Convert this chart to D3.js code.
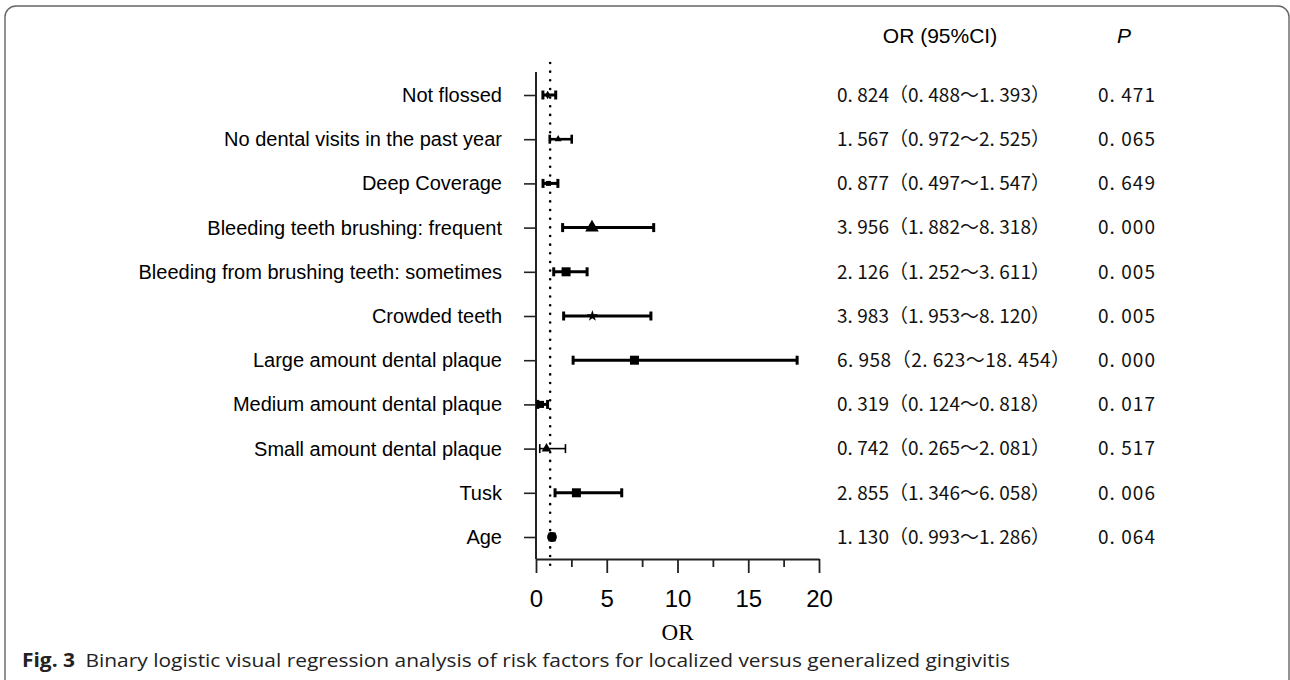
<!DOCTYPE html>
<html>
<head>
<meta charset="utf-8">
<script src="https://cdn.jsdelivr.net/npm/d3@7"></script>
<style>
  body { margin: 0; background: #fff; }
  svg { display: block; }
</style>
</head>
<body>
<div id="chart"></div>
<script>
// values
var factors = [
  "Not flossed",
  "No dental visits in the past year",
  "Deep Coverage",
  "Bleeding teeth brushing: frequent",
  "Bleeding from brushing teeth: sometimes",
  "Crowded teeth",
  "Large amount dental plaque",
  "Medium amount dental plaque",
  "Small amount dental plaque",
  "Tusk",
  "Age"
];
var orValues = [0.824, 1.567, 0.877, 3.956, 2.126, 3.983, 6.958, 0.319, 0.742, 2.855, 1.130];
var ciLow    = [0.488, 0.972, 0.497, 1.882, 1.252, 1.953, 2.623, 0.124, 0.265, 1.346, 0.993];
var ciHigh   = [1.393, 2.525, 1.547, 8.318, 3.611, 8.120, 18.454, 0.818, 2.081, 6.058, 1.286];
var pValues  = ["0.471", "0.065", "0.649", "0.000", "0.005", "0.005", "0.000", "0.017", "0.517", "0.006", "0.064"];
var majorTicks = [0, 5, 10, 15, 20];
var minorTicks = [2.5, 7.5, 12.5, 17.5];

(function(){
    var width = 1290;
    var height = 680;

    // marker look per row (symbol, area, bar width)
    var markerStyle = [
        [d3.symbolDiamond, 22, 3],
        [d3.symbolTriangle, 22, 2.6],
        [d3.symbolSquare, 25, 3],
        [d3.symbolTriangle, 80, 3],
        [d3.symbolSquare, 81, 3],
        [d3.symbolStar, 40, 3],
        [d3.symbolSquare, 81, 3],
        [d3.symbolSquare, 50, 3],
        [d3.symbolTriangle, 40, 1.6],
        [d3.symbolSquare, 81, 3],
        [d3.symbolCircle, 75, 3]
    ];

    var rows = factors.map(function(f, i){
        return {name: f, or: orValues[i], lo: ciLow[i], hi: ciHigh[i], p: pValues[i], i: i};
    });

    var svg = d3.select("#chart")
        .append("svg")
        .attr("width", width)
        .attr("height", height);

    // rounded frame, open at the bottom
    svg.append("rect")
        .attr("x", 5).attr("y", 6)
        .attr("width", 1284).attr("height", 720)
        .attr("rx", 11)
        .attr("fill", "none")
        .attr("stroke", "#666")
        .attr("stroke-width", 1.4);

    var x = d3.scaleLinear().domain([0, 20]).range([536, 819]);
    var y = d3.scalePoint().domain(factors).range([95, 537]);
    var axisY = 559;

    // reference line at OR = 1
    svg.append("line")
        .attr("x1", x(1)).attr("x2", x(1))
        .attr("y1", 63).attr("y2", 571)
        .attr("stroke", "#000")
        .attr("stroke-width", 2.6)
        .attr("stroke-linecap", "round")
        .attr("stroke-dasharray", "0,8.65");

    // y axis
    var yAxis = svg.append("g")
        .attr("transform", "translate(536,0)")
        .call(d3.axisLeft(y).tickSize(12).tickSizeOuter(0).tickPadding(22));
    yAxis.select(".domain").remove();
    yAxis.selectAll(".tick line").attr("stroke", "#222").attr("stroke-width", 1.6);
    yAxis.selectAll(".tick text")
        .attr("font-family", "'Liberation Sans', Arial, sans-serif")
        .attr("font-size", "20px")
        .attr("fill", "#000");

    svg.append("line")
        .attr("x1", 536).attr("x2", 536)
        .attr("y1", 72).attr("y2", axisY)
        .attr("stroke", "#222").attr("stroke-width", 2);

    // x axis, major + minor ticks
    var xAxis = svg.append("g")
        .attr("transform", "translate(0," + axisY + ")")
        .call(d3.axisBottom(x).tickValues(majorTicks).tickSize(14).tickSizeOuter(0).tickFormat(d3.format("d")));
    xAxis.select(".domain").attr("stroke", "#222").attr("stroke-width", 2);
    xAxis.selectAll(".tick line").attr("stroke", "#222").attr("stroke-width", 1.8);
    xAxis.selectAll(".tick text")
        .attr("y", 48).attr("dy", null)
        .attr("font-family", "'Liberation Sans', Arial, sans-serif")
        .attr("font-size", "24px")
        .attr("fill", "#000");

    var xMinor = svg.append("g")
        .attr("transform", "translate(0," + axisY + ")")
        .call(d3.axisBottom(x).tickValues(minorTicks).tickSize(8).tickFormat(""));
    xMinor.select(".domain").remove();
    xMinor.selectAll(".tick line").attr("stroke", "#222").attr("stroke-width", 1.8);

    svg.append("text")
        .attr("x", x(10)).attr("y", 640)
        .attr("text-anchor", "middle")
        .attr("font-family", "'Liberation Serif', serif")
        .attr("font-size", "23px")
        .attr("fill", "#000")
        .text("OR");

    // error bars
    var bars = svg.selectAll(".bar")
        .data(rows)
        .enter().append("g")
        .attr("class", "bar")
        .attr("stroke", "#000")
        .attr("stroke-width", function(d){ return markerStyle[d.i][2]; });

    bars.append("line")
        .attr("x1", function(d){ return x(d.lo); })
        .attr("x2", function(d){ return x(d.hi); })
        .attr("y1", function(d){ return y(d.name); })
        .attr("y2", function(d){ return y(d.name); });

    bars.selectAll(".cap")
        .data(function(d){ return [{v: d.lo, n: d.name}, {v: d.hi, n: d.name}]; })
        .enter().append("line")
        .attr("class", "cap")
        .attr("x1", function(d){ return x(d.v); })
        .attr("x2", function(d){ return x(d.v); })
        .attr("y1", function(d){ return y(d.n) - 4.5; })
        .attr("y2", function(d){ return y(d.n) + 4.5; });

    svg.selectAll(".marker")
        .data(rows)
        .enter().append("path")
        .attr("class", "marker")
        .attr("transform", function(d){ return "translate(" + x(d.or) + "," + y(d.name) + ")"; })
        .attr("d", function(d){
            return d3.symbol().type(markerStyle[d.i][0]).size(markerStyle[d.i][1])();
        })
        .attr("fill", "#000");

    // table on the right
    var f3 = function(v){ return d3.format(".3f")(v).replace(".", ". "); };

    svg.append("text")
        .attr("x", 940).attr("y", 43)
        .attr("text-anchor", "middle")
        .attr("font-family", "'Liberation Sans', Arial, sans-serif")
        .attr("font-size", "21px")
        .text("OR (95%CI)");

    svg.append("text")
        .attr("x", 1117).attr("y", 43)
        .attr("font-family", "'Liberation Sans', Arial, sans-serif")
        .attr("font-style", "italic")
        .attr("font-size", "21px")
        .text("P");

    svg.selectAll(".ci-text")
        .data(rows)
        .enter().append("text")
        .attr("class", "ci-text")
        .attr("x", 837)
        .attr("y", function(d){ return y(d.name); })
        .attr("dy", "0.36em")
        .attr("font-family", "'Noto Sans CJK SC', sans-serif")
        .attr("font-size", "19px")
        .attr("fill", "#111")
        .attr("textLength", function(d){ return d.hi >= 10 ? 233 : 213; })
        .attr("lengthAdjust", "spacing")
        .text(function(d){ return f3(d.or) + "（" + f3(d.lo) + "～" + f3(d.hi) + "）"; });

    svg.selectAll(".p-text")
        .data(rows)
        .enter().append("text")
        .attr("class", "p-text")
        .attr("x", 1098)
        .attr("y", function(d){ return y(d.name); })
        .attr("dy", "0.36em")
        .attr("font-family", "'Noto Sans CJK SC', sans-serif")
        .attr("font-size", "19px")
        .attr("fill", "#111")
        .attr("textLength", 57)
        .attr("lengthAdjust", "spacing")
        .text(function(d){ return d.p.replace(".", ". "); });

    // caption
    var cap = svg.append("text")
        .attr("x", 22).attr("y", 667)
        .attr("font-family", "'Open Sans', 'Noto Sans', sans-serif")
        .attr("font-size", "19px")
        .attr("fill", "#222")
        .attr("textLength", 988)
        .attr("lengthAdjust", "spacingAndGlyphs");
    cap.append("tspan").attr("font-weight", "bold").text("Fig. 3");
    cap.append("tspan").text("\u2002Binary logistic visual regression analysis of risk factors for localized versus generalized gingivitis");
})();
</script>
</body>
</html>
